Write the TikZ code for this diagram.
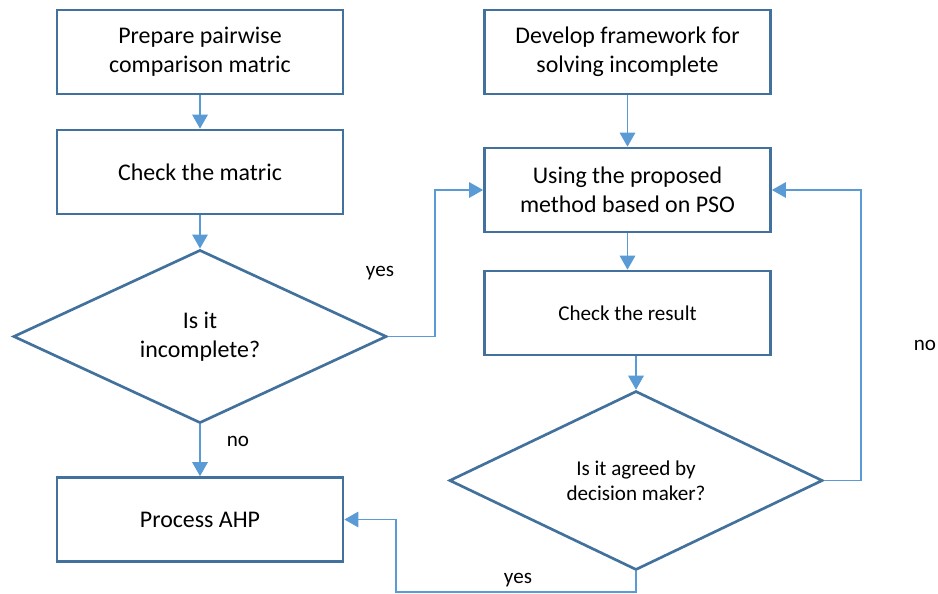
\documentclass[tikz,border=0pt]{standalone}
\usepackage{fontspec}
\setmainfont{Carlito}
\definecolor{BoxBlue}{RGB}{65,113,156}
\definecolor{FlowBlue}{RGB}{91,155,213}
\usetikzlibrary{arrows.meta, shapes.geometric}

\begin{document}
\begin{tikzpicture}[x=0.025cm, y=-0.025cm]
        % --- Styles ---
        \tikzstyle{stepbox}=[draw=BoxBlue, line width=1.9pt, rectangle, minimum width=7.15cm, minimum height=2.1cm, inner sep=0pt, align=center, font=\fontsize{17}{20.5}\selectfont]
        \tikzstyle{decision}=[draw=BoxBlue, line width=1.9pt, diamond, minimum width=9.33cm, minimum height=4.33cm, inner sep=0pt, align=center, font=\fontsize{15}{18}\selectfont]
        \tikzstyle{flow}=[FlowBlue, line width=0.8pt, -{Triangle[width=0.39cm, length=0.35cm]}]
        \tikzstyle{answer}=[font=\fontsize{15}{18}\selectfont]

        \useasboundingbox (0,0) rectangle (938,593);

        % --- 1. Left column: AHP side ---
        \node[stepbox] (prep) at (200,52) {Prepare pairwise\\comparison matric};
        \node[stepbox] (check) at (200,172) {Check the matric};
        \node[decision, font=\fontsize{17}{20.5}\selectfont] (isinc) at (200,336.5) {Is it\\incomplete?};
        \node[stepbox] (ahp) at (200,519.5) {Process AHP};

        % --- 2. Right column: PSO side ---
        \node[stepbox] (dev) at (627.5,52) {Develop framework for\\solving incomplete};
        \node[stepbox] (using) at (627.5,190) {Using the proposed\\method based on PSO};
        \node[stepbox, font=\fontsize{15}{18}\selectfont] (result) at (627.5,313) {Check the result};
        \node[decision] (agreed) at (636,480.5) {Is it agreed by\\decision maker?};

        % bend points of the loops
        \coordinate (yesup) at (435,190);
        \coordinate (noup) at (861,480.5);
        \coordinate (yesdown) at (636,592);
        \coordinate (yesleft) at (396,592);

        % --- 3. Connectors ---
        \draw[flow] (prep) -- (check);
        \draw[flow] (check) -- (isinc);
        \draw[flow] (isinc.east) -| (yesup) -- (using.west);
        \draw[flow] (isinc) -- (ahp);
        \draw[flow] (dev) -- (using);
        \draw[flow] (using) -- (result);
        \draw[flow] (agreed.north |- result.south) -- (agreed.north);
        \draw[flow] (agreed.east) -- (noup) |- (using.east);
        \draw[flow] (agreed.south) -- (yesdown) -- (yesleft) |- (ahp.east);

        % --- 4. Answers ---
        \node[answer] (yestop) at (380,273) {yes};
        \node[answer] (noleft) at (238,441) {no};
        \node[answer] (noright) at (925,345) {no};
        \node[answer] (yesbottom) at (518,580) {yes};

    \end{tikzpicture}
\end{document}
